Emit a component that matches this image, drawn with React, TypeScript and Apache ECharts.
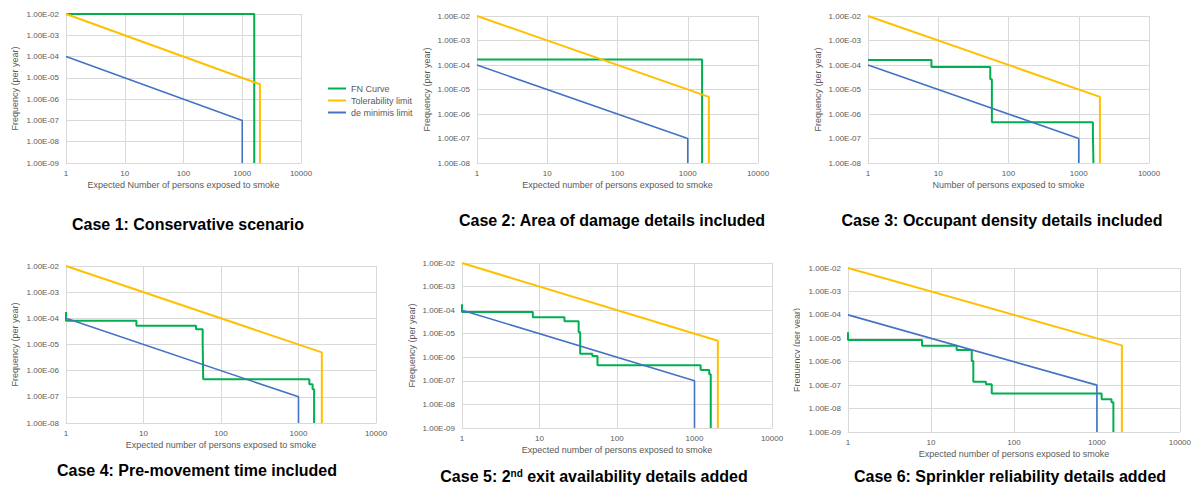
import React, { useEffect, useRef } from "react";
import * as echarts from "echarts";

// Legend names shared by every panel
const seriesNames = ["FN Curve", "Tolerability limit", "de minimis limit"];
const seriesColors = ["#00b050", "#ffc000", "#4472c4"];

// Criterion lines (N, F)
const tolN = [1, 2000];
const tolF = [1e-2, 5e-6];
const minN = [1, 1000];
const minF = [1e-4, 1e-7];

// FN curves: N where each step starts (last N = drop to zero) and the step's frequency
const case1N = [1, 1600];
const case1F = [1e-2];
const case2N = [1, 1600];
const case2F = [1.66e-4];
const case3N = [1, 8, 55, 58, 1590, 1620];
const case3F = [1.6e-4, 8.3e-5, 2.6e-5, 4.6e-7, 1.4e-7];
const case4N = [1, 1, 8.1, 47.6, 58, 59, 1380, 1520, 1590];
const case4F = [1.75e-4, 8.1e-5, 5.2e-5, 3.8e-5, 1.1e-5, 4.7e-7, 3.0e-7, 1.95e-7];
const case5N = [1, 1, 8.2, 21, 32, 33.5, 48, 56, 1200, 1550, 1620];
const case5F = [1.8e-4, 8.3e-5, 5e-5, 3.4e-5, 1.15e-5, 1.4e-6, 1.13e-6, 4.6e-7, 2.9e-7, 1.9e-7];
const case6N = [1, 1, 7.8, 20.4, 31, 32.4, 46, 54, 1140, 1500, 1580];
const case6F = [1.8e-5, 8.5e-6, 4.8e-6, 3.2e-6, 1.07e-6, 1.4e-7, 1.1e-7, 4.4e-8, 2.5e-8, 1.85e-8];

// Axis ranges
const xMin = 1;
const xMax = 10000;
const yMax = 1e-2;
const yMins = [1e-9, 1e-8, 1e-8, 1e-8, 1e-9, 1e-9];
const emphasisLines = [1e-5, 1e-7, 1e-7, 1e-7, 1e-7, 1e-7];

const xTitles = [
  "Expected Number of persons exposed to smoke",
  "Expected number of persons exposed to smoke",
  "Number of persons exposed to smoke",
  "Expected number of persons exposed to smoke",
  "Expected number of persons exposed to smoke",
  "Expected number of persons exposed to smoke",
];
const yTitle = "Frequency (per year)";
const captions = [
  "Case 1: Conservative scenario",
  "Case 2: Area of damage details included",
  "Case 3: Occupant density details included",
  "Case 4: Pre-movement time included",
  "{a|Case 5: 2}{s|nd}{a| exit availability details added}",
  "Case 6: Sprinkler reliability details added",
];

const fnN = [case1N, case2N, case3N, case4N, case5N, case6N];
const fnF = [case1F, case2F, case3F, case4F, case5F, case6F];

// Panel geometry
const layout = [
  { left: 66, top: 14, width: 235, height: 149, yGap: 47, capX: 188, capY: 224 },
  { left: 477, top: 16, width: 281, height: 147, yGap: 46, capX: 612, capY: 220 },
  { left: 868, top: 16, width: 281, height: 147, yGap: 46, capX: 1002, capY: 220 },
  { left: 66, top: 266, width: 310, height: 157, yGap: 47, capX: 197, capY: 470 },
  { left: 462, top: 263, width: 310, height: 165, yGap: 46, capX: 594, capY: 476 },
  { left: 848, top: 268, width: 332, height: 164, yGap: 47, capX: 1010, capY: 476 },
];

const FONT = "'Liberation Sans', Arial, sans-serif";
const GREY = "#595959";
const GRID = "#d9d9d9";

const sci = (v: number) => {
  const e = Math.round(Math.log10(v));
  const m = v / Math.pow(10, e);
  return m.toFixed(2) + "E" + (e < 0 ? "-" : "+") + String(Math.abs(e)).padStart(2, "0");
};

export default function App() {
  const ref = useRef<HTMLDivElement>(null);

  useEffect(() => {
    if (!ref.current) return;
    const chart = echarts.init(ref.current, undefined, { renderer: "svg" });

    const grids: any[] = [];
    const xAxes: any[] = [];
    const yAxes: any[] = [];
    const series: any[] = [];
    const graphics: any[] = [];

    layout.forEach((g, i) => {
      const floor = yMins[i];
      grids.push({ left: g.left, top: g.top, width: g.width, height: g.height, containLabel: false });
      xAxes.push({
        gridIndex: i,
        type: "log",
        logBase: 10,
        min: xMin,
        max: xMax,
        interval: 1,
        name: xTitles[i],
        nameLocation: "middle",
        nameGap: 17,
        nameTextStyle: { fontSize: 9, color: GREY, fontFamily: FONT },
        axisLine: { show: true, lineStyle: { color: GRID } },
        axisTick: { show: false },
        axisLabel: { fontSize: 8, color: GREY, fontFamily: FONT, margin: 6, formatter: (v: number) => String(Math.round(v)) },
        splitLine: { show: true, lineStyle: { color: GRID, width: 1 } },
      });
      yAxes.push({
        gridIndex: i,
        type: "log",
        logBase: 10,
        min: floor,
        max: yMax,
        interval: 1,
        name: yTitle,
        nameLocation: "middle",
        nameRotate: 90,
        nameGap: g.yGap,
        nameTextStyle: { fontSize: 9, color: GREY, fontFamily: FONT },
        axisLine: { show: true, lineStyle: { color: GRID } },
        axisTick: { show: false },
        axisLabel: { fontSize: 8, color: GREY, fontFamily: FONT, margin: 7, formatter: sci },
        splitLine: { show: true, lineStyle: { color: GRID, width: 1 } },
      });

      const fnData = fnN[i].map((n, k) => [n, k < fnF[i].length ? fnF[i][k] : floor]);
      const tolData = [...tolN.map((n, k) => [n, tolF[k]]), [tolN[tolN.length - 1], floor]];
      const minData = [...minN.map((n, k) => [n, minF[k]]), [minN[minN.length - 1], floor]];

      const common = { xAxisIndex: i, yAxisIndex: i, type: "line", symbol: "none", silent: true, clip: false };
      series.push({
        ...common,
        name: seriesNames[0],
        step: "end",
        data: fnData,
        lineStyle: { color: seriesColors[0], width: 2 },
        itemStyle: { color: seriesColors[0] },
        z: 3,
      });
      series.push({
        ...common,
        name: seriesNames[1],
        data: tolData,
        lineStyle: { color: seriesColors[1], width: 2 },
        itemStyle: { color: seriesColors[1] },
        z: 4,
      });
      series.push({
        ...common,
        name: seriesNames[2],
        data: minData,
        lineStyle: { color: seriesColors[2], width: 1.6 },
        itemStyle: { color: seriesColors[2] },
        z: 5,
        markLine: {
          silent: true,
          symbol: ["none", "none"],
          label: { show: false },
          lineStyle: { color: "#b4b4b4", type: "solid", width: 1 },
          data: [{ yAxis: emphasisLines[i] }],
          z: 1,
        },
      });

      graphics.push({
        type: "text",
        x: g.capX,
        y: g.capY,
        style: {
          text: captions[i],
          fill: "#000",
          font: `bold 16px ${FONT}`,
          fontFamily: FONT,
          fontSize: 16,
          fontWeight: "bold",
          textAlign: "center",
          textVerticalAlign: "middle",
          rich: {
            a: { fontSize: 16, fontWeight: "bold", fontFamily: FONT, fill: "#000" },
            s: { fontSize: 10, fontWeight: "bold", fontFamily: FONT, fill: "#000", verticalAlign: "top" },
          },
        },
      });
    });

    // The sixth panel's axis title is partly hidden behind the neighbouring panel edge
    graphics.push({
      type: "rect",
      shape: { x: 800, y: 275, width: 9, height: 160 },
      style: { fill: "#ffffff" },
      z: 100,
    });

    chart.setOption({
      animation: false,
      backgroundColor: "#ffffff",
      grid: grids,
      xAxis: xAxes,
      yAxis: yAxes,
      series,
      graphic: graphics,
      legend: {
        data: seriesNames,
        orient: "vertical",
        left: 323,
        top: 79,
        icon: "rect",
        itemWidth: 18,
        itemHeight: 2,
        itemGap: 3,
        textStyle: { fontSize: 9, color: GREY, fontFamily: FONT },
        selectedMode: false,
      },
    });

    return () => chart.dispose();
  }, []);

  return (
    <div
      ref={ref}
      style={{ position: "absolute", left: 0, top: 0, width: 1194, height: 486, background: "#fff" }}
    />
  );
}
